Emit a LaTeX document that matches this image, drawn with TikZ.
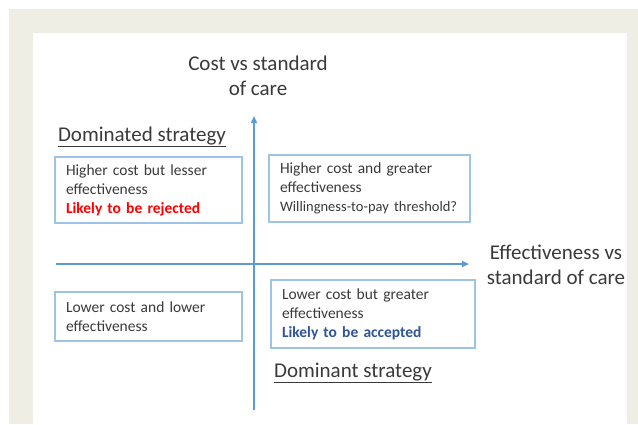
\documentclass[tikz,border=0pt]{standalone}
\usepackage{fontspec}
\setmainfont{Carlito}
\usetikzlibrary{arrows.meta}
\definecolor{axisblue}{HTML}{5B9BD5}
\definecolor{boxblue}{HTML}{9DC3E6}
\definecolor{textgrey}{HTML}{3A3A3A}
\definecolor{acceptblue}{HTML}{2F5597}
\definecolor{pagebeige}{HTML}{EFEEE4}

\begin{document}
\begin{tikzpicture}[x=1pt,y=-1pt,
        box/.style={draw=boxblue, line width=1.2pt, text=textgrey, align=left,
            inner xsep=11pt, inner ysep=0pt, font=\fontsize{15.5}{19}\selectfont},
        heading/.style={text=textgrey, align=center, font=\fontsize{21}{25}\selectfont},
        axis/.style={draw=axisblue, line width=1.8pt, -{Triangle[length=7pt,width=6pt]}}]
        \useasboundingbox (0,0) rectangle (638,424);
        % Draw page background
        \fill[pagebeige] (9,9) rectangle (638,424);
        \fill[white] (33,33) rectangle (627,424);
        % Draw axes
        \coordinate (xstart) at (56,264);
        \coordinate (xend) at (469,264);
        \coordinate (ystart) at (254,410);
        \coordinate (yend) at (254,116);
        \draw[axis] (xstart) -- (xend);
        \draw[axis] (ystart) -- (yend);
        % Axis titles
        \node[heading] (costlabel) at (258,76) {Cost vs standard\\of care};
        \node[heading] (efflabel) at (556,265) {Effectiveness vs\\standard of care};
        % Quadrant boxes
        \node[box, minimum width=187pt, minimum height=66pt, text width=165pt] (highlow) at (148.5,190)
            {Higher cost but lesser\\effectiveness\\{\color{red}\bfseries Likely to be rejected}};
        \node[box, minimum width=201pt, minimum height=67pt, text width=179pt] (highhigh) at (369.5,188.5)
            {Higher cost and greater\\effectiveness\\{\fontsize{14.5}{19}\selectfont Willingness-to-pay threshold?}};
        \node[box, minimum width=187pt, minimum height=49pt, text width=165pt] (lowlow) at (148.5,316.5)
            {Lower cost and lower\\effectiveness};
        \node[box, minimum width=204pt, minimum height=68pt, text width=182pt] (lowhigh) at (373,314)
            {Lower cost but greater\\effectiveness\\{\color{acceptblue}\bfseries Likely to be accepted}};
        % Strategy labels
        \node[heading] (dominated) at (142,137) {\underline{Dominated strategy}};
        \node[heading] (dominant) at (353,373) {\underline{Dominant strategy}};
    \end{tikzpicture}
\end{document}
